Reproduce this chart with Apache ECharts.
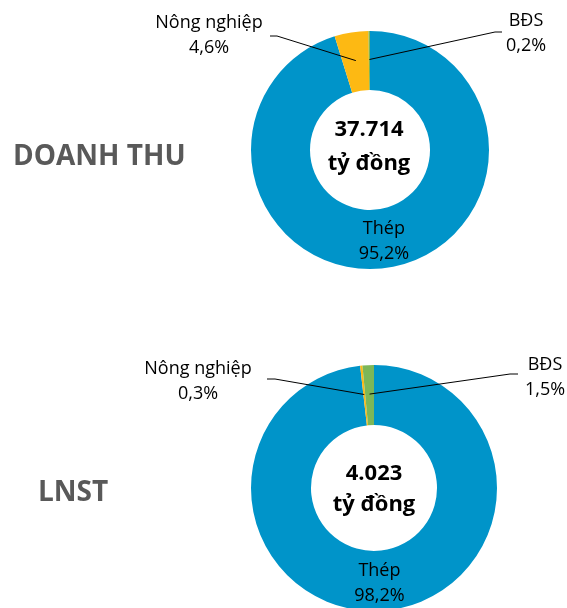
<!DOCTYPE html>
<html>
<head>
<meta charset="utf-8">
<script src="https://cdn.jsdelivr.net/npm/echarts@6/dist/echarts.min.js"></script>
<style>
html,body{margin:0;padding:0;background:#fff;}
#chart{width:567px;height:608px;}
</style>
</head>
<body>
<div id="chart"></div>
<script>
// ---- data ----
var categories = ['Thép', 'Nông nghiệp', 'BĐS'];
var revenueShare = [95.2, 4.6, 0.2];
var profitShare = [98.2, 0.3, 1.5];
var revenueTotal = '37.714';
var profitTotal = '4.023';
var unitText = 'tỷ đồng';
var rowTitles = ['DOANH THU', 'LNST'];
var colors = ['#0094C9', '#FDB913', '#7DB757'];

var FONT = '"Open Sans", "Noto Sans", sans-serif';

function fmt(v) { return v.toFixed(1).replace('.', ',') + '%'; }

// label anchor positions for the outside labels (annotation placement)
var topLabels = {
  1: { x: 209, y: 35, line: [[277, 36], [270, 36]] },
  2: { x: 526, y: 33, line: [[495, 32], [502, 32]] }
};
var bottomLabels = {
  1: { x: 198, y: 381, line: [[275, 379], [267, 379]] },
  2: { x: 545, y: 377, line: [[510, 374], [518, 374]] }
};

var topCenter = [370, 150];
var bottomCenter = [374, 488];

function makeLayout(center, midR, table) {
  return function (params) {
    var cfg = table[params.dataIndex];
    if (!cfg) return {};
    var p0 = params.labelLinePoints ? params.labelLinePoints[0] : null;
    var start = p0;
    if (p0) {
      var dx = p0[0] - center[0], dy = p0[1] - center[1];
      var d = Math.sqrt(dx * dx + dy * dy) || 1;
      start = [center[0] + dx / d * midR, center[1] + dy / d * midR];
    }
    return {
      x: cfg.x, y: cfg.y, align: 'center', verticalAlign: 'middle',
      labelLinePoints: [start, cfg.line[0], cfg.line[1]]
    };
  };
}

var labelText = {
  show: true,
  formatter: function (p) { return p.name + '\n' + fmt(p.value); },
  fontFamily: FONT,
  fontSize: 18,
  lineHeight: 25,
  color: '#000'
};

// main coloured ring, with the inside label for the largest slice
function pieSeries(values, center, radius) {
  return {
    type: 'pie',
    center: center,
    radius: radius,
    startAngle: 90,
    clockwise: true,
    silent: true,
    z: 2,
    avoidLabelOverlap: false,
    label: labelText,
    labelLine: { show: false },
    itemStyle: { borderWidth: 0 },
    emphasis: { disabled: true },
    data: categories.map(function (c, i) {
      return {
        name: c, value: values[i], itemStyle: { color: colors[i] },
        label: i === 0 ? { show: true, position: 'inside' } : { show: false }
      };
    })
  };
}

// transparent overlay ring carrying the leader-line labels above the ring
function overlaySeries(values, center, radius, table) {
  return {
    type: 'pie',
    center: center,
    radius: radius,
    startAngle: 90,
    clockwise: true,
    silent: true,
    z: 5,
    avoidLabelOverlap: false,
    minShowLabelAngle: 0,
    label: labelText,
    labelLine: { show: true, lineStyle: { color: '#000', width: 1 } },
    labelLayout: makeLayout(center, (radius[0] + radius[1]) / 2 + 1, table),
    itemStyle: { color: 'rgba(0,0,0,0)', borderWidth: 0 },
    emphasis: { disabled: true },
    data: categories.map(function (c, i) {
      return {
        name: c, value: values[i],
        label: i === 0 ? { show: false } : { show: true, position: 'outside' },
        labelLine: { show: i !== 0 }
      };
    })
  };
}

var chart = echarts.init(document.getElementById('chart'), null, { renderer: 'canvas' });
chart.setOption({
  animation: false,
  backgroundColor: '#fff',
  title: [
    { text: rowTitles[0], left: 8, top: 138, textStyle: { fontFamily: FONT, fontSize: 28, fontWeight: 'bold', color: '#595959' } },
    { text: rowTitles[1], left: 33, top: 474, textStyle: { fontFamily: FONT, fontSize: 28, fontWeight: 'bold', color: '#595959' } },
    { text: revenueTotal + '\n' + unitText, left: 364, top: 142, textAlign: 'center', textVerticalAlign: 'middle',
      textStyle: { fontFamily: FONT, fontSize: 22, fontWeight: 'bold', color: '#000', lineHeight: 34 } },
    { text: profitTotal + '\n' + unitText, left: 369, top: 484, textAlign: 'center', textVerticalAlign: 'middle',
      textStyle: { fontFamily: FONT, fontSize: 22, fontWeight: 'bold', color: '#000', lineHeight: 31 } }
  ],
  series: [
    pieSeries(revenueShare, topCenter, [60, 119]),
    pieSeries(profitShare, bottomCenter, [63, 123]),
    overlaySeries(revenueShare, topCenter, [60, 119], topLabels),
    overlaySeries(profitShare, bottomCenter, [63, 123], bottomLabels)
  ]
});
</script>
</body>
</html>
